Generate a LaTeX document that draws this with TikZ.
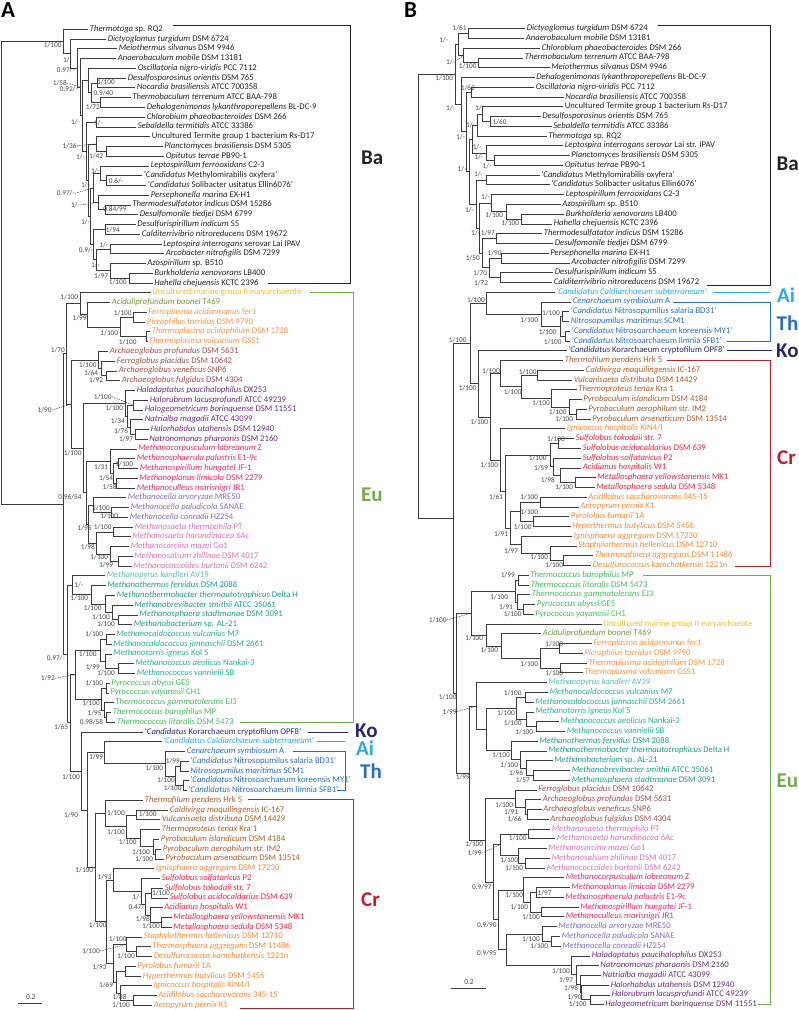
\documentclass[tikz,border=0pt]{standalone}
\usepackage{fontspec}
\setmainfont{Carlito}
\usetikzlibrary{calc}
\definecolor{brc}{RGB}{60,60,60}
\definecolor{cba}{RGB}{35,35,35}
\definecolor{cmg}{RGB}{240,190,40}
\definecolor{cacid}{RGB}{120,150,60}
\definecolor{ctp}{RGB}{245,150,70}
\definecolor{cag}{RGB}{160,80,75}
\definecolor{chalo}{RGB}{105,45,125}
\definecolor{cmmic}{RGB}{225,45,110}
\definecolor{cmcel}{RGB}{130,110,190}
\definecolor{cmsar}{RGB}{215,115,185}
\definecolor{cmpyr}{RGB}{90,190,175}
\definecolor{cmbac}{RGB}{30,155,140}
\definecolor{cmcoc}{RGB}{40,175,150}
\definecolor{ctc}{RGB}{70,185,95}
\definecolor{cko}{RGB}{40,40,110}
\definecolor{cai}{RGB}{45,170,225}
\definecolor{cth}{RGB}{40,110,190}
\definecolor{cprot}{RGB}{165,95,45}
\definecolor{cdes}{RGB}{240,140,60}
\definecolor{csulf}{RGB}{230,40,65}
\definecolor{geu}{RGB}{112,173,71}
\definecolor{gcr}{RGB}{192,30,40}
\definecolor{bslc}{RGB}{70,70,70}
\newcommand\I[1]{\textit{#1}}
\newcounter{bsc}
\begin{document}
\begin{tikzpicture}[x=1pt,y=-1pt,
  br/.style={draw=brc,line width=0.8pt},
  leaf/.style={anchor=west,inner xsep=1.6pt,inner ysep=0pt,text=lc,font=\fontsize{8.7}{9}\selectfont,text height=6pt,text depth=2pt},
  bsl/.style={anchor=east,inner sep=0pt,text=bslc,font=\fontsize{7.3}{8}\selectfont,text height=5pt,text depth=0pt},
  ptr/.style={draw=brc,line width=0.5pt,dash pattern=on 1.5pt off 1pt},
  grp/.style={font=\fontsize{21}{21}\selectfont\bfseries,inner sep=0pt,text height=14pt,text depth=0pt},
  gbr/.style={line width=1pt},
  pan/.style={font=\fontsize{23}{23}\selectfont\bfseries,anchor=base west,inner sep=0pt}]
\useasboundingbox (0,0) rectangle (799,1010);
\newcommand\lf[4]{\coordinate (#1) at (#3,{\yo+9.76*#2}); \node[leaf] (#1t) at (#1) {#4};}
\newcommand\nd[4]{\coordinate (#1m) at ($(#3)!0.5!(#4)$); \path let \p1=(#1m) in coordinate (#1) at (#2pt,\y1); \draw[br] (#1) |- (#3); \draw[br] (#1) |- (#4);}
\newcommand\bs[3]{\stepcounter{bsc}\node[bsl] (bs\arabic{bsc}) at (#1,#2) {#3};}
\newcommand\bsd[4]{\stepcounter{bsc}\node[bsl] (bs\arabic{bsc}) at (#1,#2) {#3}; \draw[ptr] (bs\arabic{bsc}.east) -- (#4);}
\node[pan] (pA) at (1,17) {A};
\node[pan] (pB) at (404,17) {B};
% ================= PANEL A leaves
\def\yo{29.3}
\colorlet{lc}{cba}
\lf{a0}{0}{88}{\I{Thermotoga} sp. RQ2}
\lf{a1}{1}{106}{\I{Dictyoglomus turgidum} DSM 6724}
\lf{a2}{2}{117}{\I{Meiothermus silvanus} DSM 9946}
\lf{a3}{3}{116}{\I{Anaerobaculum mobile} DSM 13181}
\lf{a4}{4}{136}{\I{Oscillatoria nigro-viridis} PCC 7112}
\lf{a5}{5}{126}{\I{Desulfosporosinus orientis} DSM 765}
\lf{a6}{6}{135}{\I{Nocardia brasiliensis} ATCC 700358}
\lf{a7}{7}{130.5}{\I{Thermobaculum terrenum} ATCC BAA-798}
\lf{a8}{8}{145}{\I{Dehalogenimonas lykanthroporepellens} BL-DC-9}
\lf{a9}{9}{145}{\I{Chlorobium phaeobacteroides} DSM 266}
\lf{a10}{10}{136}{\I{Sebaldella termitidis} ATCC 33386}
\lf{a11}{11}{150}{Uncultured Termite group 1 bacterium Rs-D17}
\lf{a12}{12}{162.5}{\I{Planctomyces brasiliensis} DSM 5305}
\lf{a13}{13}{164}{\I{Opitutus terrae} PB90-1}
\lf{a14}{14}{149}{\I{Leptospirillum ferrooxidans} C2-3}
\lf{a15}{15}{142}{`\I{Candidatus} Methylomirabilis oxyfera'}
\lf{a16}{16}{146}{`\I{Candidatus} Solibacter usitatus Ellin6076'}
\lf{a17}{17}{149}{\I{Persephonella marina} EX-H1}
\lf{a18}{18}{130.5}{\I{Thermodesulfatator indicus} DSM 15286}
\lf{a19}{19}{138}{\I{Desulfomonile tiedjei} DSM 6799}
\lf{a20}{20}{135.5}{\I{Desulfurispirillum indicum} S5}
\lf{a21}{21}{140}{\I{Calditerrivibrio nitroreducens} DSM 19672}
\lf{a22}{22}{161.5}{\I{Leptospira interrogans} serovar Lai IPAV}
\lf{a23}{23}{164}{\I{Arcobacter nitrofigilis} DSM 7299}
\lf{a24}{24}{145.5}{\I{Azospirillum} sp. B510}
\lf{a25}{25}{152.5}{\I{Burkholderia xenovorans} LB400}
\lf{a26}{26}{152.5}{\I{Hahella chejuensis} KCTC 2396}
\colorlet{lc}{cmg}
\lf{a27}{27}{150.5}{Uncultured marine group II euryarchaeote}
\colorlet{lc}{cacid}
\lf{a28}{28}{110}{\I{Aciduliprofundum boonei} T469}
\colorlet{lc}{ctp}
\lf{a29}{29}{146.5}{\I{Ferroplasma acidarmanus} fer1}
\lf{a30}{30}{145}{\I{Picrophilus torridus} DSM 9790}
\lf{a31}{31}{150}{\I{Thermoplasma acidophilum} DSM 1728}
\lf{a32}{32}{147}{\I{Thermoplasma volcanium} GSS1}
\colorlet{lc}{cag}
\lf{a33}{33}{108}{\I{Archaeoglobus profundus} DSM 5631}
\lf{a34}{34}{115}{\I{Ferroglobus placidus} DSM 10642}
\lf{a35}{35}{117}{\I{Archaeoglobus veneficus} SNP6}
\lf{a36}{36}{120}{\I{Archaeoglobus fulgidus} DSM 4304}
\colorlet{lc}{chalo}
\lf{a37}{37}{135}{\I{Haladaptatus paucihalophilus} DX253}
\lf{a38}{38}{148}{\I{Halorubrum lacusprofundi} ATCC 49239}
\lf{a39}{39}{143}{\I{Halogeometricum borinquense} DSM 11551}
\lf{a40}{40}{143}{\I{Natrialba magadii} ATCC 43099}
\lf{a41}{41}{149}{\I{Halorhabdus utahensis} DSM 12940}
\lf{a42}{42}{147.5}{\I{Natronomonas pharaonis} DSM 2160}
\colorlet{lc}{cmmic}
\lf{a43}{43}{136.5}{\I{Methanocorpusculum labreanum} Z}
\lf{a44}{44}{135}{\I{Methanosphaerula palustris} E1-9c}
\lf{a45}{45}{138}{\I{Methanospirillum hungatei} JF-1}
\lf{a46}{46}{137.5}{\I{Methanoplanus limicola} DSM 2279}
\lf{a47}{47}{135}{\I{Methanoculleus marisnigri} JR1}
\colorlet{lc}{cmcel}
\lf{a48}{48}{126}{\I{Methanocella arvoryzae} MRE50}
\lf{a49}{49}{129}{\I{Methanocella paludicola} SANAE}
\lf{a50}{50}{128}{\I{Methanocella conradii} HZ254}
\colorlet{lc}{cmsar}
\lf{a51}{51}{133}{\I{Methanosaeta thermophila} PT}
\lf{a52}{52}{130.5}{\I{Methanosaeta harundinacea} 6Ac}
\lf{a53}{53}{129}{\I{Methanosarcina mazei} Go1}
\lf{a54}{54}{132.5}{\I{Methanosalsum zhilinae} DSM 4017}
\lf{a55}{55}{131.5}{\I{Methanococcoides burtonii} DSM 6242}
\colorlet{lc}{cmpyr}
\lf{a56}{56}{105}{\I{Methanopyrus kandleri} AV19}
\colorlet{lc}{cmbac}
\lf{a57}{57}{105.5}{\I{Methanothermus fervidus} DSM 2088}
\lf{a58}{58}{115}{\I{Methanothermobacter thermautotrophicus} Delta H}
\lf{a59}{59}{132.5}{\I{Methanobrevibacter smithii} ATCC 35061}
\lf{a60}{60}{137.5}{\I{Methanosphaera stadtmanae} DSM 3091}
\lf{a61}{61}{132}{\I{Methanobacterium} sp. AL-21}
\colorlet{lc}{cmcoc}
\lf{a62}{62}{114.5}{\I{Methanocaldococcus vulcanius} M7}
\lf{a63}{63}{111.5}{\I{Methanocaldococcus jannaschii} DSM 2661}
\lf{a64}{64}{111.5}{\I{Methanotorris igneus} Kol 5}
\lf{a65}{65}{133.5}{\I{Methanococcus aeolicus} Nankai-3}
\lf{a66}{66}{135}{\I{Methanococcus vannielii} SB}
\colorlet{lc}{ctc}
\lf{a67}{67}{109.5}{\I{Pyrococcus abyssi} GE5}
\lf{a68}{68}{108.5}{\I{Pyrococcus yayanosii} CH1}
\lf{a69}{69}{113.5}{\I{Thermococcus gammatolerans} EJ3}
\lf{a70}{70}{111}{\I{Thermococcus barophilus} MP}
\lf{a71}{71}{115}{\I{Thermococcus litoralis} DSM 5473}
\colorlet{lc}{cko}
\lf{a72}{72}{143}{`\I{Candidatus} Korarchaeum cryptofilum OPF8'}
\colorlet{lc}{cai}
\lf{a73}{73}{161.5}{`\I{Candidatus Caldiarchaeum subterraneum}'}
\colorlet{lc}{cth}
\lf{a74}{74}{185}{\I{Cenarchaeum symbiosum} A}
\lf{a75}{75}{188.5}{`\I{Candidatus} Nitrosopumilus salaria BD31'}
\lf{a76}{76}{188.5}{\I{Nitrosopumilus maritimus} SCM1}
\lf{a77}{77}{188.5}{`\I{Candidatus} Nitrosoarchaeum koreensis MY1'}
\lf{a78}{78}{186.5}{`\I{Candidatus} Nitrosoarchaeum limnia SFB1'}
\colorlet{lc}{cprot}
\lf{a79}{79}{143}{\I{Thermofilum pendens} Hrk 5}
\lf{a80}{80}{168}{\I{Caldivirga maquilingensis} IC-167}
\lf{a81}{81}{160}{\I{Vulcanisaeta distributa} DSM 14429}
\lf{a82}{82}{160}{\I{Thermoproteus tenax} Kra 1}
\lf{a83}{83}{159}{\I{Pyrobaculum islandicum} DSM 4184}
\lf{a84}{84}{161}{\I{Pyrobaculum aerophilum} str. IM2}
\lf{a85}{85}{163.5}{\I{Pyrobaculum arsenaticum} DSM 13514}
\colorlet{lc}{cdes}
\lf{a86}{86}{154}{\I{Ignisphaera aggregans} DSM 17230}
\colorlet{lc}{csulf}
\lf{a87}{87}{160}{\I{Sulfolobus solfataricus} P2}
\lf{a88}{88}{163}{\I{Sulfolobus tokodaii} str. 7}
\lf{a89}{89}{168}{\I{Sulfolobus acidocaldarius} DSM 639}
\lf{a90}{90}{162.5}{\I{Acidianus hospitalis} W1}
\lf{a91}{91}{171.5}{\I{Metallosphaera yellowstonensis} MK1}
\lf{a92}{92}{171.5}{\I{Metallosphaera sedula} DSM 5348}
\colorlet{lc}{cdes}
\lf{a93}{93}{142}{\I{Staphylothermus hellenicus} DSM 12710}
\lf{a94}{94}{150.5}{\I{Thermosphaera aggregans} DSM 11486}
\lf{a95}{95}{152}{\I{Desulfurococcus kamchatkensis} 1221n}
\lf{a96}{96}{135.5}{\I{Pyrolobus fumarii} 1A}
\lf{a97}{97}{141}{\I{Hyperthermus butylicus} DSM 5456}
\lf{a98}{98}{152}{\I{Ignicoccus hospitalis} KIN4/I}
\lf{a99}{99}{156.5}{\I{Acidilobus saccharovorans} 345-15}
\lf{a100}{100}{152}{\I{Aeropyrum pernix} K1}
% ---- A tree: Bacteria
\nd{aN7}{97.7}{a5}{a6}
\nd{aN8}{100}{a7}{a8}
\nd{aN6}{91.7}{aN7}{aN8}
\nd{aN5}{88.3}{a4}{aN6}
\nd{aN10}{96.7}{a9}{a10}
\nd{aNPO}{106}{a12}{a13}
\nd{aNUP}{96.7}{a11}{aNPO}
\nd{aNMS}{106.7}{a15}{a16}
\nd{aNLMS}{100}{a14}{aNMS}
\nd{aNTD}{105}{a18}{a19}
\nd{aNPTD}{98}{a17}{aNTD}
\nd{aN13}{93.3}{aNLMS}{aNPTD}
\nd{aNDC}{105}{a20}{a21}
\nd{aNLA}{110}{a22}{a23}
\nd{aNBH}{129}{a25}{a26}
\nd{aNAZ}{110}{a24}{aNBH}
\nd{aN15}{96.7}{aNLA}{aNAZ}
\nd{aN14}{93}{aNDC}{aN15}
\nd{aN12}{90}{aN13}{aN14}
\nd{aN11}{88.7}{aNUP}{aN12}
\nd{aN9}{86.7}{aN10}{aN11}
\nd{aN4}{82.7}{aN5}{aN9}
\nd{aN3}{80.7}{a3}{aN4}
\nd{aN2}{77.3}{a2}{aN3}
\nd{aN1}{70.7}{a1}{aN2}
\nd{aBa}{63.3}{a0}{aN1}
% ---- A tree: Euryarchaeota
\nd{aFP}{133.3}{a29}{a30}
\nd{aTT}{146.7}{a31}{a32}
\nd{aTP}{120}{aFP}{aTT}
\nd{aAT}{87.3}{a28}{aTP}
\nd{aMG}{80}{a27}{aAT}
\nd{aAG3}{106}{a35}{a36}
\nd{aAG2}{101.7}{a34}{aAG3}
\nd{aAG}{98.3}{a33}{aAG2}
\nd{aHRG}{133.3}{a38}{a39}
\nd{aHHN}{135}{a41}{a42}
\nd{aHN}{130}{a40}{aHHN}
\nd{aHA}{127.5}{aHRG}{aHN}
\nd{aH0}{125}{a37}{aHA}
\nd{aM2}{118.3}{a44}{a45}
\nd{aM3}{116.7}{a46}{a47}
\nd{aM1}{113.3}{aM2}{aM3}
\nd{aM0}{110}{a43}{aM1}
\nd{aC1}{111.7}{a49}{a50}
\nd{aC0}{93.3}{a48}{aC1}
\nd{aS1}{113.3}{a51}{a52}
\nd{aS3}{118.3}{a54}{a55}
\nd{aS2}{110}{a53}{aS3}
\nd{aS0}{96.7}{aS1}{aS2}
\nd{aEW}{88.7}{aC0}{aS0}
\nd{aEZ}{86}{aM0}{aEW}
\nd{aEY}{83.3}{aH0}{aEZ}
\nd{aEX}{71.7}{aAG}{aEY}
\nd{aE2}{66.7}{aMG}{aEX}
\nd{aB3}{118.3}{a60}{a61}
\nd{aB2}{112.3}{a59}{aB3}
\nd{aB1}{105}{a58}{aB2}
\nd{aB0}{91.7}{a57}{aB1}
\nd{aP0}{72.7}{a56}{aB0}
\nd{aK1}{106}{a62}{a63}
\nd{aK3}{118.3}{a65}{a66}
\nd{aK2}{105}{a64}{aK3}
\nd{aK0}{100}{aK1}{aK2}
\nd{aT1}{106.7}{a67}{a68}
\nd{aT3}{106.7}{a70}{a71}
\nd{aT2}{104}{a69}{aT3}
\nd{aT0}{101.7}{aT1}{aT2}
\nd{aQ0}{75}{aK0}{aT0}
% ---- A tree: TACK
\nd{aTh2}{180}{a75}{a76}
\nd{aTh3}{183.3}{a77}{a78}
\nd{aTh1}{175}{aTh2}{aTh3}
\nd{aTh0}{165}{a74}{aTh1}
\nd{aAiTh}{104}{a73}{aTh0}
\nd{aP1}{136.7}{a80}{a81}
\nd{aP4}{155}{a84}{a85}
\nd{aP3}{153.3}{a83}{aP4}
\nd{aP2}{140}{a82}{aP3}
\nd{aP5}{126.7}{aP1}{aP2}
\nd{aPr0}{105}{a79}{aP5}
\nd{aSF1}{151.7}{a88}{a89}
\nd{aSF3}{161.7}{a91}{a92}
\nd{aSF2}{150}{a90}{aSF3}
\nd{aSF4}{145}{aSF1}{aSF2}
\nd{aSF0}{141.7}{a87}{aSF4}
\nd{aIS}{113.3}{a86}{aSF0}
\nd{aD1}{136.7}{a94}{a95}
\nd{aD0}{126.7}{a93}{aD1}
\nd{aPH}{125}{a96}{a97}
\nd{aAA}{133.3}{a99}{a100}
\nd{aIA}{120}{a98}{aAA}
\nd{aDD1}{116.7}{aPH}{aIA}
\nd{aDD0}{113.3}{aD0}{aDD1}
\nd{aCR2}{106.7}{aIS}{aDD0}
\nd{aCR0}{95}{aPr0}{aCR2}
\nd{aTK1}{87.3}{aAiTh}{aCR0}
\nd{aTK0}{81.7}{a72}{aTK1}
\nd{aY}{70}{aQ0}{aTK0}
\nd{aX}{67}{aP0}{aY}
\nd{aAr}{63.3}{aE2}{aX}
\nd{aRoot}{1}{aBa}{aAr}
% ---- A support values
\bs{61.7}{45}{1/100}
\bs{72}{60}{1/-}
\bs{75}{70}{0.97/-}
\bsd{67}{83}{1/58}{aN3}
\bs{78}{89}{0.92/-}
\bs{115}{81.7}{1/100}
\bs{113.3}{93.3}{0.9/40}
\bs{100}{107.3}{1/72}
\bs{80}{122}{1/-}
\bs{103}{123}{1/-}
\bsd{76.7}{145.7}{1/36}{aNUP}
\bs{85}{156.7}{1/-}
\bs{103.3}{156}{1/42}
\bs{100}{170.5}{1/-}
\bs{123.3}{181}{0.6/-}
\bs{90}{185}{1/-}
\bsd{75}{193.3}{0.97/-}{aN13}
\bsd{80}{205}{1/-}{aNPTD}
\bs{126.7}{209.3}{0.84/99}
\bs{90}{221.7}{1/-}
\bs{120}{230}{1/94}
\bs{93.3}{250}{0.9/-}
\bs{108.3}{245}{1/-}
\bs{100}{265}{1/-}
\bs{108.3}{276}{1/97}
\bs{126.7}{281.7}{1/100}
\bs{78.3}{296.7}{1/100}
\bs{86.7}{318.3}{1/99}
\bs{131.7}{313.3}{1/100}
\bs{118.3}{333.3}{1/100}
\bs{136.7}{341.7}{1/100}
\bs{65}{350}{1/70}
\bs{96.7}{365}{1/100}
\bs{98.3}{372.7}{1/64}
\bs{103.3}{380}{1/92}
\bsd{111.7}{396.7}{1/100}{aHRG}
\bsd{51.7}{410}{1/90}{aEX}
\bs{123.3}{408.3}{1/100}
\bs{125}{421}{1/34}
\bs{128.3}{430.7}{1/76}
\bs{133.3}{439}{1/97}
\bs{81.7}{453.3}{1/100}
\bs{108.3}{466.7}{1/31}
\bs{133.3}{464.3}{1/100}
\bs{113.3}{477.7}{1/54}
\bs{116.7}{487.3}{1/58}
\bs{81.7}{496.7}{0.96/54}
\bs{110}{508.3}{1/100}
\bs{118.3}{516}{1/100}
\bs{91.7}{528.3}{1/95}
\bs{111.7}{526.7}{1/100}
\bs{95}{546.7}{1/98}
\bs{108.3}{557.3}{1/100}
\bs{113.3}{565}{1/99}
\bs{83.3}{585}{1/-}
\bs{88.3}{598.3}{1/100}
\bs{101.7}{608.3}{1/100}
\bs{110}{616.7}{1/100}
\bs{115}{624}{1/100}
\bs{103.3}{634}{1/100}
\bs{96.7}{654}{1/100}
\bs{65}{658.3}{0.97/-}
\bs{100}{666.7}{1/99}
\bs{115}{673.3}{1/100}
\bsd{55}{678.3}{1/92}{aQ0}
\bs{103.3}{683.3}{1/100}
\bs{100}{703.3}{1/100}
\bs{101.7}{713.3}{1/95}
\bs{103.3}{722.3}{0.98/58}
\bs{68.3}{726.7}{1/65}
\bs{103.3}{757.3}{1/99}
\bs{180}{761}{1/99}
\bs{163.3}{768.3}{1/100}
\bs{80}{776.7}{1/100}
\bs{175}{780}{1/100}
\bs{181.7}{788.3}{1/100}
\bs{125}{813.3}{1/100}
\bs{78.3}{815}{1/90}
\bs{156.7}{814.3}{1/100}
\bs{125}{831.7}{1/100}
\bs{136.7}{842.3}{1/100}
\bs{150}{851.7}{1/100}
\bs{153.3}{859.3}{1/100}
\bs{93.3}{870}{1/100}
\bs{111.7}{876.7}{1/93}
\bs{170}{893.3}{1/100}
\bs{141.7}{896.7}{1/-}
\bs{146.7}{906.7}{0.47/-}
\bs{150}{919}{1/98}
\bs{106.7}{925}{1/100}
\bs{160}{926}{1/100}
\bs{126.7}{939.3}{1/100}
\bsd{100}{951}{1/100}{aD0}
\bs{135}{956}{1/100}
\bs{106.7}{966.7}{1/93}
\bs{113.3}{985}{1/69}
\bs{126.7}{996.7}{1/88}
\bs{130}{1005}{1/100}
% ---- A scale bar
\coordinate (sA1) at (18.3,1003.3); \coordinate (sA2) at (41.7,1003.3);
\draw[br] (sA1) -- (sA2);
\node[font=\fontsize{7.5}{8}\selectfont,text=bslc,inner sep=0pt] (sAt) at (30.8,997.5) {0.2};
% ---- A brackets
\draw[gbr,draw=cba] (173,25) -- (350,25) -- (350,283.3) -- (268,283.3);
\draw[gbr,draw=geu] (310,292.7) -- (353.3,292.7) -- (353.3,722.3) -- (240,722.3);
\draw[gbr,draw=cko] (308,732) -- (348,732);
\draw[gbr,draw=cai] (317,741.7) -- (345,741.7);
\draw[gbr,draw=cth] (293,751.3) -- (345,751.3) -- (345,790) -- (337,790);
\draw[gbr,draw=gcr] (248,799.3) -- (353.3,799.3) -- (353.3,1008) -- (240,1008);
\node[grp,text=cba,anchor=west] (gABa) at (361,157) {Ba};
\node[grp,text=geu,anchor=west] (gAEu) at (361,494.5) {Eu};
\node[grp,text=cko,anchor=west] (gAKo) at (355,730) {Ko};
\node[grp,text=cai,anchor=west] (gAAi) at (356,748.5) {Ai};
\node[grp,text=cth,anchor=west] (gATh) at (360,771) {Th};
\node[grp,text=gcr,anchor=west] (gACr) at (361,899) {Cr};
% ================= PANEL B leaves
\def\yo{28.7}
\colorlet{lc}{cba}
\lf{b0}{0}{525}{\I{Dictyoglomus turgidum} DSM 6724}
\lf{b1}{1}{524}{\I{Anaerobaculum mobile} DSM 13181}
\lf{b2}{2}{540}{\I{Chlorobium phaeobacteroides} DSM 266}
\lf{b3}{3}{523}{\I{Thermobaculum terrenum} ATCC BAA-798}
\lf{b4}{4}{549.5}{\I{Meiothermus silvanus} DSM 9946}
\lf{b5}{5}{534.5}{\I{Dehalogenimonas lykanthroporepellens} BL-DC-9}
\lf{b6}{6}{534}{\I{Oscillatoria nigro-viridis} PCC 7112}
\lf{b7}{7}{563.5}{\I{Nocardia brasiliensis} ATCC 700358}
\lf{b8}{8}{563}{Uncultured Termite group 1 bacterium Rs-D17}
\lf{b9}{9}{540.5}{\I{Desulfosporosinus orientis} DSM 765}
\lf{b10}{10}{551.5}{\I{Sebaldella termitidis} ATCC 33386}
\lf{b11}{11}{546.5}{\I{Thermotoga} sp. RQ2}
\lf{b12}{12}{563}{\I{Leptospira interrogans serovar} Lai str. IPAV}
\lf{b13}{13}{569.5}{\I{Planctomyces brasiliensis} DSM 5305}
\lf{b14}{14}{563}{\I{Opitutus terrae} PB90-1}
\lf{b15}{15}{539.5}{`\I{Candidatus} Methylomirabilis oxyfera'}
\lf{b16}{16}{549.5}{`\I{Candidatus} Solibacter usitatus Ellin6076'}
\lf{b17}{17}{564}{\I{Leptospirillum ferrooxidans} C2-3}
\lf{b18}{18}{560.5}{\I{Azospirillum} sp. B510}
\lf{b19}{19}{564}{\I{Burkholderia xenovorans} LB400}
\lf{b20}{20}{552}{\I{Hahella chejuensis} KCTC 2396}
\lf{b21}{21}{542}{\I{Thermodesulfatator indicus} DSM 15286}
\lf{b22}{22}{553}{\I{Desulfomonile tiedjei} DSM 6799}
\lf{b23}{23}{548.5}{\I{Persephonella marina} EX-H1}
\lf{b24}{24}{569.5}{\I{Arcobacter nitrofigilis} DSM 7299}
\lf{b25}{25}{553}{\I{Desulfurispirillum indicum} S5}
\lf{b26}{26}{552}{\I{Calditerrivibrio nitroreducens} DSM 19672}
\colorlet{lc}{cai}
\lf{b27}{27}{554.5}{`\I{Candidatus Caldiarchaeum subterraneum}'}
\colorlet{lc}{cth}
\lf{b28}{28}{571}{\I{Cenarchaeum symbiosum} A}
\lf{b29}{29}{569}{`\I{Candidatus} Nitrosopumilus salaria BD31'}
\lf{b30}{30}{569}{\I{Nitrosopumilus maritimus} SCM1}
\lf{b31}{31}{570}{`\I{Candidatus} Nitrosoarchaeum koreensis MY1'}
\lf{b32}{32}{570}{`\I{Candidatus} Nitrosoarchaeum limnia SFB1'}
\colorlet{lc}{cko}
\lf{b33}{33}{566.5}{`\I{Candidatus} Korarchaeum cryptofilum OPF8'}
\colorlet{lc}{cprot}
\lf{b34}{34}{563}{\I{Thermofilum pendens} Hrk 5}
\lf{b35}{35}{584}{\I{Caldivirga maquilingensis} IC-167}
\lf{b36}{36}{572}{\I{Vulcanisaeta distributa} DSM 14429}
\lf{b37}{37}{576.5}{\I{Thermoproteus tenax} Kra 1}
\lf{b38}{38}{581.5}{\I{Pyrobaculum islandicum} DSM 4184}
\lf{b39}{39}{586.5}{\I{Pyrobaculum aerophilum} str. IM2}
\lf{b40}{40}{590.5}{\I{Pyrobaculum arsenaticum} DSM 13514}
\colorlet{lc}{cdes}
\lf{b41}{41}{565}{\I{Ignicoccus hospitalis} KIN4/I}
\colorlet{lc}{csulf}
\lf{b42}{42}{574}{\I{Sulfolobus tokodaii} str. 7}
\lf{b43}{43}{581}{\I{Sulfolobus acidocaldarius} DSM 639}
\lf{b44}{44}{581}{\I{Sulfolobus solfataricus} P2}
\lf{b45}{45}{581}{\I{Acidianus hospitalis} W1}
\lf{b46}{46}{595.5}{\I{Metallosphaera yellowstonensis} MK1}
\lf{b47}{47}{594.5}{\I{Metallosphaera sedula} DSM 5348}
\colorlet{lc}{cdes}
\lf{b48}{48}{586.5}{\I{Acidilobus saccharovorans} 345-15}
\lf{b49}{49}{578.5}{\I{Aeropyrum pernix} K1}
\lf{b50}{50}{569}{\I{Pyrolobus fumarii} 1A}
\lf{b51}{51}{570.5}{\I{Hyperthermus butylicus} DSM 5456}
\lf{b52}{52}{572}{\I{Ignisphaera aggregans} DSM 17230}
\lf{b53}{53}{576.5}{\I{Staphylothermus hellenicus} DSM 12710}
\lf{b54}{54}{593}{\I{Thermosphaera aggregans} DSM 11486}
\lf{b55}{55}{591}{\I{Desulfurococcus kamchatkensis} 1221n}
\colorlet{lc}{ctc}
\lf{b56}{56}{528.5}{\I{Thermococcus barophilus} MP}
\lf{b57}{57}{529}{\I{Thermococcus litoralis} DSM 5473}
\lf{b58}{58}{530}{\I{Thermococcus gammatolerans} EJ3}
\lf{b59}{59}{535}{\I{Pyrococcus abyssi} GE5}
\lf{b60}{60}{533.5}{\I{Pyrococcus yayanosii} CH1}
\colorlet{lc}{cmg}
\lf{b61}{61}{601.5}{Uncultured marine group II euryarchaeote}
\colorlet{lc}{cacid}
\lf{b62}{62}{541}{\I{Aciduliprofundum boonei} T469}
\colorlet{lc}{ctp}
\lf{b63}{63}{591.5}{\I{Ferroplasma acidarmanus} fer1}
\lf{b64}{64}{582.5}{\I{Picrophilus torridus} DSM 9790}
\lf{b65}{65}{586.5}{\I{Thermoplasma acidophilum} DSM 1728}
\lf{b66}{66}{582.5}{\I{Thermoplasma volcanium} GSS1}
\colorlet{lc}{cmpyr}
\lf{b67}{67}{546.5}{\I{Methanopyrus kandleri} AV19}
\colorlet{lc}{cmcoc}
\lf{b68}{68}{548}{\I{Methanocaldococcus vulcanius} M7}
\lf{b69}{69}{533.5}{\I{Methanocaldococcus jannaschii} DSM 2661}
\lf{b70}{70}{533.5}{\I{Methanotorris igneus} Kol 5}
\lf{b71}{71}{558.5}{\I{Methanococcus aeolicus} Nankai-3}
\lf{b72}{72}{565}{\I{Methanococcus vannielii} SB}
\colorlet{lc}{cmbac}
\lf{b73}{73}{537.5}{\I{Methanothermus fervidus} DSM 2088}
\lf{b74}{74}{546.5}{\I{Methanothermobacter thermautotrophicus} Delta H}
\lf{b75}{75}{552.5}{\I{Methanobacterium} sp. AL-21}
\lf{b76}{76}{570}{\I{Methanobrevibacter smithii} ATCC 35061}
\lf{b77}{77}{570}{\I{Methanosphaera stadtmanae} DSM 3091}
\colorlet{lc}{cag}
\lf{b78}{78}{536.5}{\I{Ferroglobus placidus} DSM 10642}
\lf{b79}{79}{541}{\I{Archaeoglobus profundus} DSM 5631}
\lf{b80}{80}{541.5}{\I{Archaeoglobus veneficus} SNP6}
\lf{b81}{81}{548.5}{\I{Archaeoglobus fulgidus} DSM 4304}
\colorlet{lc}{cmsar}
\lf{b82}{82}{550}{\I{Methanosaeta thermophila} PT}
\lf{b83}{83}{555}{\I{Methanosaeta harundinacea} 6Ac}
\lf{b84}{84}{546.5}{\I{Methanosarcina mazei} Go1}
\lf{b85}{85}{550}{\I{Methanosalsum zhilinae} DSM 4017}
\lf{b86}{86}{545}{\I{Methanococcoides burtonii} DSM 6242}
\colorlet{lc}{cmmic}
\lf{b87}{87}{564}{\I{Methanocorpusculum labreanum} Z}
\lf{b88}{88}{569.5}{\I{Methanoplanus limicola} DSM 2279}
\lf{b89}{89}{563.5}{\I{Methanosphaerula palustris} E1-9c}
\lf{b90}{90}{578.5}{\I{Methanospirillum hungatei} JF-1}
\lf{b91}{91}{564}{\I{Methanoculleus marisnigri} JR1}
\colorlet{lc}{cmcel}
\lf{b92}{92}{556.5}{\I{Methanocella arvoryzae} MRE50}
\lf{b93}{93}{560}{\I{Methanocella paludicola} SANAE}
\lf{b94}{94}{560.5}{\I{Methanocella conradii} HZ254}
\colorlet{lc}{chalo}
\lf{b95}{95}{590}{\I{Haladaptatus paucihalophilus} DX253}
\lf{b96}{96}{598.5}{\I{Natronomonas pharaonis} DSM 2160}
\lf{b97}{97}{600.5}{\I{Natrialba magadii} ATCC 43099}
\lf{b98}{98}{609}{\I{Halorhabdus utahensis} DSM 12940}
\lf{b99}{99}{610}{\I{Halorubrum lacusprofundi} ATCC 49239}
\lf{b100}{100}{603.5}{\I{Halogeometricum borinquense} DSM 11551}
% ---- B tree: Bacteria
\nd{bDA}{468.3}{b0}{b1}
\nd{bTM}{478.3}{b3}{b4}
\nd{bCTM}{463.3}{b2}{bTM}
\nd{bB1}{458.3}{bDA}{bCTM}
\nd{bON}{471}{b6}{b7}
\nd{bDS}{490.7}{b9}{b10}
\nd{bUDS}{482.7}{b8}{bDS}
\nd{bTU}{477.3}{bUDS}{b11}
\nd{bPO}{494}{b13}{b14}
\nd{bLPO}{486}{b12}{bPO}
\nd{bTUL}{472}{bTU}{bLPO}
\nd{bMS}{486.7}{b15}{b16}
\nd{bBH}{521.7}{b19}{b20}
\nd{bABH}{506.7}{b18}{bBH}
\nd{bLABH}{491.7}{b17}{bABH}
\nd{bTD}{496.7}{b21}{b22}
\nd{bPA}{501.7}{b23}{b24}
\nd{bDC}{500}{b25}{b26}
\nd{bG1}{489}{bPA}{bDC}
\nd{bG2}{482}{bTD}{bG1}
\nd{bK}{479}{bLABH}{bG2}
\nd{bL}{476}{bMS}{bK}
\nd{bR1}{469.5}{bTUL}{bL}
\nd{bOR}{466.7}{bON}{bR1}
\nd{bX}{461.7}{b5}{bOR}
\nd{bBa}{455}{bB1}{bX}
% ---- B tree: TACK
\nd{bSM}{562.3}{b29}{b30}
\nd{bKL}{565}{b31}{b32}
\nd{bTh1}{560}{bSM}{bKL}
\nd{bTh0}{541.7}{b28}{bTh1}
\nd{bAiTh}{486.7}{b27}{bTh0}
\nd{bP1}{537.3}{b35}{b36}
\nd{bP4}{576}{b39}{b40}
\nd{bP3}{569.3}{b38}{bP4}
\nd{bP2}{551.7}{b37}{bP3}
\nd{bP5}{521.7}{bP1}{bP2}
\nd{bP0}{500}{b34}{bP5}
\nd{bST}{558.3}{b42}{b43}
\nd{bSMe}{575}{b46}{b47}
\nd{bSA}{560}{b45}{bSMe}
\nd{bSS}{553}{b44}{bSA}
\nd{bS0}{550}{bST}{bSS}
\nd{bAA}{540}{b48}{b49}
\nd{bPH}{533.3}{b50}{b51}
\nd{bAAPH}{520}{bAA}{bPH}
\nd{bTDk}{563.3}{b54}{b55}
\nd{bSD}{550}{b53}{bTDk}
\nd{bIgS}{521.7}{b52}{bSD}
\nd{bDd}{510}{bAAPH}{bIgS}
\nd{bSD2}{505}{bS0}{bDd}
\nd{bIG}{500}{b41}{bSD2}
\nd{bCr}{490}{bP0}{bIG}
\nd{bKoCr}{478.3}{b33}{bCr}
\nd{bTACK}{470}{bAiTh}{bKoCr}
% ---- B tree: Euryarchaeota
\nd{bTL}{518.3}{b56}{b57}
\nd{bPY}{523.3}{b59}{b60}
\nd{bTC2}{517}{b58}{bPY}
\nd{bTC1}{515}{bTL}{bTC2}
\nd{bFP}{559.3}{b63}{b64}
\nd{bTT}{560.7}{b65}{b66}
\nd{bTP}{540}{bFP}{bTT}
\nd{bAT}{501.7}{b62}{bTP}
\nd{bMG}{486}{b61}{bAT}
\nd{bEU1}{471.7}{bTC1}{bMG}
\nd{bVJ}{525}{b68}{b69}
\nd{bAV}{536.7}{b71}{b72}
\nd{bTAV}{526}{b70}{bAV}
\nd{bMC}{516.7}{bVJ}{bTAV}
\nd{bBS}{533.3}{b76}{b77}
\nd{bBB}{526.7}{b75}{bBS}
\nd{bTB}{520}{b74}{bBB}
\nd{bMB}{511.7}{b73}{bTB}
\nd{bMCB}{486}{bMC}{bMB}
\nd{bMP}{476.7}{b67}{bMCB}
\nd{bVF}{527.3}{b80}{b81}
\nd{bPVF}{525}{b79}{bVF}
\nd{bAG}{515}{b78}{bPVF}
\nd{bMSa}{528.3}{b82}{b83}
\nd{bSC}{525}{b85}{b86}
\nd{bMS3}{518.3}{b84}{bSC}
\nd{bMSS}{500}{bMSa}{bMS3}
\nd{bPS}{536.7}{b88}{b89}
\nd{bSC2}{541.7}{b90}{b91}
\nd{bMM1}{530}{bPS}{bSC2}
\nd{bMM0}{523.3}{b87}{bMM1}
\nd{bPC}{551.7}{b93}{b94}
\nd{bCE}{542.7}{b92}{bPC}
\nd{bH5}{590}{b99}{b100}
\nd{bH4}{581.7}{b98}{bH5}
\nd{bH3}{580}{b97}{bH4}
\nd{bH2}{576.7}{b96}{bH3}
\nd{bH1}{571.7}{b95}{bH2}
\nd{bCH}{506.7}{bCE}{bH1}
\nd{bMCH}{498.3}{bMM0}{bCH}
\nd{bXX}{493.3}{bMSS}{bMCH}
\nd{bYY}{485}{bAG}{bXX}
\nd{bM2}{469.3}{bMP}{bYY}
\nd{bEu}{456.7}{bEU1}{bM2}
\nd{bAr}{453.3}{bTACK}{bEu}
\nd{bRoot}{418.3}{bBa}{bAr}
% ---- B support values
\bs{466.7}{28.3}{1/61}
\bs{448.3}{40}{1/-}
\bsd{455}{61.7}{1/-}{bCTM}
\bs{476.7}{66}{1/100}
\bs{453.3}{78.3}{1/100}
\bs{475}{88.3}{1/62}
\bs{455}{108.3}{1/-}
\bs{484}{108.3}{1/-}
\bs{506.7}{122.3}{1/60}
\bs{475}{125}{1/-}
\bs{465}{136.7}{1/-}
\bs{481.7}{146.7}{1/-}
\bs{483.3}{156.7}{1/-}
\bs{491.7}{165.7}{1/-}
\bs{466.7}{169}{1/-}
\bs{483}{174}{1/-}
\bs{490}{196.7}{1/-}
\bs{474}{210}{1/-}
\bs{503.3}{215}{1/100}
\bs{519.3}{223.3}{1/100}
\bs{480}{233.3}{1/-}
\bs{495}{233.3}{1/97}
\bs{501.7}{253.3}{1/90}
\bs{480}{258.3}{1/50}
\bs{487.3}{272.7}{1/70}
\bs{488.3}{283.3}{1/72}
\bs{485}{300}{1/100}
\bs{560}{313.3}{1/100}
\bs{538.3}{320}{1/100}
\bs{556.7}{331.7}{1/100}
\bs{561.7}{341.7}{1/100}
\bs{466.7}{340}{1/100}
\bs{500}{370.7}{1/100}
\bs{536.7}{371.7}{1/100}
\bs{476.7}{388.3}{1/100}
\bs{521.7}{391.7}{1/100}
\bs{550}{403.3}{1/100}
\bs{566.7}{411.7}{1/100}
\bs{488.3}{421.7}{1/100}
\bs{573.3}{419.3}{1/100}
\bs{565}{439.3}{1/100}
\bs{546.7}{458.3}{1/100}
\bs{498.3}{465}{1/100}
\bs{548.3}{468.3}{1/59}
\bs{555}{480}{1/98}
\bs{573.3}{486.7}{1/100}
\bs{503.3}{496.7}{1/61}
\bs{538.3}{497.3}{1/100}
\bs{538.3}{511.7}{1/100}
\bs{531.7}{526.7}{1/100}
\bs{508.3}{534}{1/91}
\bs{518.3}{550.7}{1/97}
\bs{548.3}{556.7}{1/100}
\bs{563.3}{565}{1/100}
\bs{515}{575}{1/99}
\bs{508.3}{596.7}{1/100}
\bs{513.3}{606.7}{1/91}
\bs{521.7}{614}{1/100}
\bsd{446.7}{620}{1/100}{bEU1}
\bs{483.3}{638.3}{1/100}
\bs{563.3}{644}{1/100}
\bs{498.3}{650}{1/100}
\bs{538.3}{664}{1/100}
\bs{563.3}{672.7}{1/100}
\bs{456.7}{696.7}{1/100}
\bs{521.7}{693.3}{1/100}
\bsd{456.7}{711.7}{1/99}{bMP}
\bs{515}{713.3}{1/100}
\bs{521.7}{723.3}{1/100}
\bs{533.3}{731.7}{1/100}
\bs{510}{755}{1/100}
\bs{518.3}{765}{1/100}
\bs{523.3}{772.7}{1/96}
\bs{530}{780}{1/57}
\bs{470}{776.7}{1/99}
\bs{513.3}{805}{1/100}
\bs{518.3}{812.3}{1/91}
\bs{521.7}{819.3}{1/66}
\bs{526.7}{838.3}{1/100}
\bs{483.3}{844}{1/100}
\bsd{481.7}{853.3}{1/99}{bMSS}
\bs{518.3}{860}{1/100}
\bs{523.3}{867.7}{1/100}
\bs{491.7}{886.7}{0.9/97}
\bs{551.7}{892.7}{1/97}
\bs{523.3}{895}{1/100}
\bs{528.3}{906.7}{1/100}
\bs{540}{916.7}{1/100}
\bs{496.7}{925}{0.9/90}
\bs{540}{939.3}{1/100}
\bs{548.3}{946}{1/100}
\bs{496.7}{953.3}{0.9/95}
\bs{570}{971}{1/100}
\bs{573.3}{980}{1/97}
\bs{578.3}{988.3}{1/98}
\bs{581.7}{996.7}{1/90}
\bs{586.7}{1004}{1/100}
% ---- B scale bar
\coordinate (sB1) at (450.7,988.3); \coordinate (sB2) at (486,988.3);
\draw[br] (sB1) -- (sB2);
\node[font=\fontsize{7.5}{8}\selectfont,text=bslc,inner sep=0pt] (sBt) at (469,982.5) {0.2};
% ---- B brackets
\draw[gbr,draw=cba] (658,25) -- (770,25) -- (770,285) -- (707,285);
\draw[gbr,draw=cai] (713,292.7) -- (770,292.7);
\draw[gbr,draw=cth] (673,302) -- (770,302) -- (770,341) -- (727,341);
\draw[gbr,draw=cko] (727,350.3) -- (772,350.3);
\draw[gbr,draw=gcr] (667,360) -- (770,360) -- (770,566) -- (735,566);
\draw[gbr,draw=geu] (643,575) -- (770,575) -- (770,1004.3) -- (758,1004.3);
\node[grp,text=cba,anchor=west] (gBBa) at (776.5,163.5) {Ba};
\node[grp,text=cai,anchor=west] (gBAi) at (777,295) {Ai};
\node[grp,text=cth,anchor=west] (gBTh) at (776.5,323.5) {Th};
\node[grp,text=cko,anchor=west] (gBKo) at (776,350) {Ko};
\node[grp,text=gcr,anchor=west] (gBCr) at (777,457.5) {Cr};
\node[grp,text=geu,anchor=west] (gBEu) at (776.5,780.5) {Eu};
\end{tikzpicture}
\end{document}
